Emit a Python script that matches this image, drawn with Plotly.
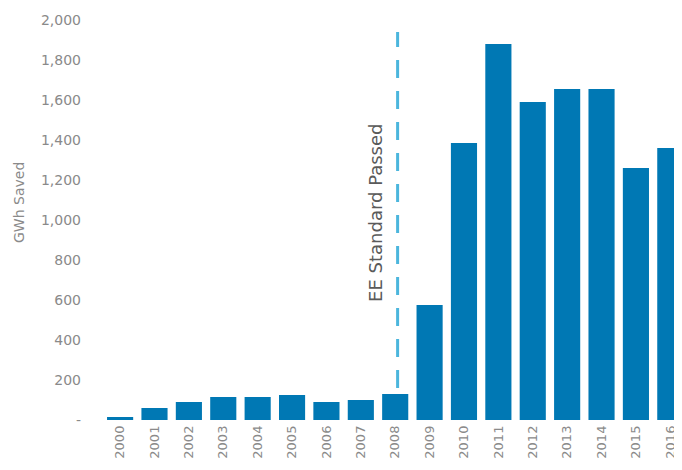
import plotly.graph_objects as go

years = [str(y) for y in range(2000, 2017)]
gwh_saved = [15, 60, 90, 115, 115, 125, 90, 100, 130, 575, 1385, 1880, 1590, 1655, 1655, 1260, 1360]

y_tickvals = [0, 200, 400, 600, 800, 1000, 1200, 1400, 1600, 1800, 2000]
y_ticktext = ["-", "200", "400", "600", "800", "1,000", "1,200", "1,400", "1,600", "1,800", "2,000"]

marker_year = "2008"
line_y = [160, 1940]
label_text = "EE Standard Passed"
y_title = "GWh Saved"

grey = "#8a8a8a"
font_family = "DejaVu Sans"

fig = go.Figure()
fig.add_trace(go.Bar(x=years, y=gwh_saved, marker=dict(color="#0078b4", line=dict(width=0)),
                     width=0.76))

x_idx = years.index(marker_year) + 0.07
fig.add_trace(go.Scatter(x=[x_idx, x_idx], y=line_y, mode="lines", xaxis="x2",
                         line=dict(color="#4bb6dd", width=3, dash="18px,13px"),
                         hoverinfo="skip", showlegend=False))

fig.add_annotation(x=x_idx - 0.66, y=1035, xref="x2", yref="y", text=label_text,
                   textangle=-90, showarrow=False,
                   font=dict(family=font_family, size=18, color="#5a5a5a"))

fig.add_annotation(x=-0.1295, y=0.545, xref="paper", yref="paper", text=y_title,
                   xanchor="center", yanchor="middle",
                   textangle=-90, showarrow=False,
                   font=dict(family=font_family, size=14, color=grey))

fig.update_layout(
    width=682, height=470,
    margin=dict(l=87, r=8, t=12, b=58),
    paper_bgcolor="white", plot_bgcolor="white",
    showlegend=False,
    bargap=0.24,
    font=dict(family=font_family, size=12, color=grey),
    xaxis=dict(type="category", range=[-0.73, 16.34], tickangle=-90,
               showgrid=False, showline=False, zeroline=False, ticks="",
               automargin=False, ticklabelstandoff=2,
               tickfont=dict(size=13, color=grey)),
    xaxis2=dict(overlaying="x", range=[-0.73, 16.34], visible=False),
    yaxis=dict(range=[0, 2000], tickvals=y_tickvals, ticktext=y_ticktext,
               showgrid=False, showline=False, zeroline=False, ticks="",
               automargin=False, ticklabelstandoff=13,
               tickfont=dict(size=14, color=grey)),
)

fig.write_html("out.html")
